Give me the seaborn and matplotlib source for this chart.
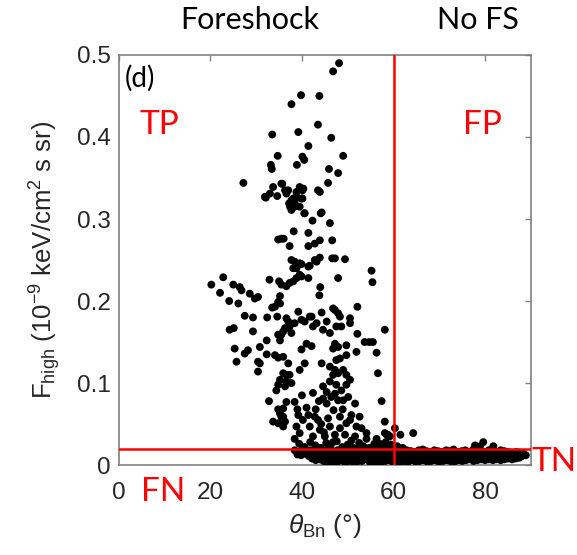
import matplotlib
matplotlib.use("Agg")
import matplotlib.pyplot as plt
import seaborn as sns
import pandas as pd

# ---- data: scattered events (theta_Bn [deg], F_high) ----
upper_x = [48.1,46.8,39.8,43.8,37.7,43.5,39.2,33.5,46.4,41.4,34.7,40.1,40.5,49.0,38.9,33.2,33.4,45.9,47.9,27.2,45.7,43.9,44.1,40.5,
           31.9,33.0,33.7,35.7,36.6,37.7,37.4,39.5,40.1,38.8,38.4,39.5,32.1,34.6,37.0,37.2,37.7,38.4,38.8,40.3,39.9,40.6,38.1,35.5,36.3,37.3,38.1,40.1,
           42.3,43.5,44.3,46.1,38.2,41.4,35.5,34.8,36.0,37.3,41.4,42.8,43.9,46.6,
           37.7,38.4,39.5,38.8,41.4,42.8,39.9,41.7,43.2,43.9,46.6,47.2,49.4,38.1,
           55.2,55.4,47.9,32.9,35.0,35.5,36.6,38.1,38.8,39.9,41.4,39.5,37.3,44.0,43.8,
           20.2,22.8,25.0,26.4,26.8,22.1,28.6,30.4,29.7,24.1,26.1,35.2,34.8,34.1,33.5,35.2,
           27.5,29.3,32.4,34.6,39.2,39.9,41.7,43.2,25.1,37.0,52.1,47.2,47.9,48.3,50.5,44.3,42.1,36.6,46.8,37.3,42.4,47.5,
           24.2,29.3,32.3,34.8,35.9,37.0,25.3,27.5,28.2,25.7,30.8,32.3,34.1,34.8,30.4,30.8,30.4,37.0,36.6,35.2,34.8,34.4,36.6,35.9,
           32.8,34.8,35.2,35.9,36.3,33.7,34.8,35.9,
           58.1,52.1,53.7,54.7,55.5,56.3,56.6,57.4,58.1,60.3,
           47.2,46.8,47.9,49.7,51.9,49.7,48.6,50.5,44.6,46.1,45.4,41.0,42.1,39.9,40.6,37.7,36.3,35.5,38.4,
           48.3,47.5,44.3,40.6,39.5,37.7,36.3,
           46.1,47.2,46.8,47.9,49.0,49.7,50.5,46.1,47.5,48.6,49.7,44.6,45.4,46.4,47.9,49.0,47.2,50.1,51.6,44.6,45.4,
           42.4,38.4,39.2,41.4,42.8,43.5,45.7,48.3,50.8,52.6,41.7,43.9,46.1,48.3,49.7,51.9,54.1,38.8,39.5,38.4,42.4,45.0,47.2,49.4,51.6,54.1,56.3,58.5,
           35.2,35.9,37.3,36.6,35.5,35.9,
           58.1,58.8,59.2,61.5,64.3,79.6,77.8,78.9,81.8,57.0,57.7,59.2,
           40.2,41.0,43.0,44.2,40.0,39.0,43.7,46.9,48.9,50.5,53.0,44.8,46.8,50.8]
upper_y = [0.490,0.480,0.451,0.450,0.440,0.415,0.406,0.403,0.399,0.389,0.377,0.376,0.372,0.377,0.366,0.366,0.361,0.361,0.356,0.344,0.344,0.333,0.307,0.307,
           0.327,0.331,0.339,0.343,0.331,0.323,0.315,0.339,0.335,0.327,0.315,0.315,0.326,0.328,0.335,0.319,0.311,0.321,0.333,0.337,0.325,0.307,0.315,0.343,0.335,0.319,0.325,0.325,
           0.298,0.335,0.308,0.295,0.285,0.283,0.276,0.275,0.276,0.267,0.267,0.270,0.274,0.274,
           0.250,0.248,0.246,0.240,0.242,0.250,0.245,0.243,0.248,0.253,0.252,0.252,0.251,0.240,
           0.237,0.223,0.228,0.226,0.224,0.220,0.218,0.224,0.228,0.230,0.228,0.232,0.222,0.217,0.207,
           0.220,0.229,0.220,0.217,0.213,0.210,0.209,0.205,0.203,0.200,0.197,0.206,0.199,0.193,0.192,0.197,
           0.182,0.180,0.180,0.181,0.187,0.177,0.181,0.173,0.167,0.175,0.193,0.189,0.185,0.181,0.179,0.186,0.181,0.179,0.191,0.169,0.169,0.169,
           0.165,0.163,0.152,0.159,0.163,0.167,0.142,0.136,0.140,0.126,0.144,0.135,0.134,0.131,0.126,0.124,0.114,0.124,0.110,0.104,0.098,0.091,0.102,0.112,
           0.078,0.068,0.063,0.059,0.053,0.053,0.051,0.069,
           0.165,0.160,0.150,0.150,0.150,0.137,0.112,0.078,0.053,0.045,
           0.148,0.142,0.144,0.146,0.138,0.134,0.169,0.173,0.165,0.161,0.175,0.148,0.145,0.141,0.175,0.161,0.167,0.159,0.173,
           0.130,0.128,0.124,0.124,0.116,0.100,0.096,
           0.120,0.116,0.110,0.112,0.116,0.110,0.104,0.102,0.098,0.091,0.098,0.096,0.089,0.083,0.079,0.079,0.087,0.083,0.075,0.081,0.075,
           0.088,0.077,0.061,0.061,0.059,0.055,0.057,0.059,0.061,0.059,0.047,0.043,0.047,0.045,0.051,0.047,0.039,0.047,0.039,0.032,0.035,0.035,0.037,0.037,0.035,0.032,0.032,0.037,
           0.152,0.132,0.110,0.077,0.059,0.047,
           0.039,0.037,0.035,0.037,0.039,0.028,0.024,0.023,0.023,0.026,0.022,0.022,
           0.055,0.070,0.068,0.050,0.085,0.068,0.078,0.067,0.068,0.055,0.045,0.040,0.028,0.030]

# points just above the threshold line
near_x = [39.4,40.6,41.8,42.9,44.1,45.3,46.2,47.6,48.8,50.0,51.2,52.5,53.4,54.7,55.8,56.9,58.3,59.4,60.8,62.0]
near_y = [0.026,0.022,0.028,0.024,0.021,0.027,0.023,0.029,0.022,0.025,0.021,0.027,0.023,0.021,0.026,0.022,0.028,0.025,0.023,0.021]

# dense band below the threshold
bandA_x = [38.4,39.3,40.1,41.0,41.8,42.7,43.4,44.3,45.2,46.0,
           46.8,47.7,48.5,49.4,50.3,51.0,51.9,52.7,53.6,54.4,
           55.3,56.1,57.0,57.9,58.7,59.5,60.4,61.3,62.1,62.9,
           63.8,64.6,65.5,66.4,67.2,68.0,68.9,69.7,70.6,71.5,
           72.3,73.1,74.0,74.9,75.7,76.5,77.4,78.2,79.1,80.0,
           80.8,81.6,82.5,83.4,84.2,85.0,85.9,86.8,87.6,88.4]
bandA_y = [0.018,0.016,0.019,0.017,0.018,0.016,0.019,0.017,0.018,0.019,
           0.016,0.018,0.017,0.019,0.016,0.018,0.019,0.017,0.016,0.018,
           0.019,0.017,0.018,0.016,0.019,0.018,0.017,0.019,0.016,0.018,
           0.017,0.016,0.018,0.019,0.017,0.016,0.018,0.017,0.016,0.018,
           0.017,0.019,0.016,0.017,0.018,0.016,0.019,0.018,0.017,0.016,
           0.018,0.017,0.016,0.018,0.017,0.016,0.015,0.016,0.015,0.014]
bandB_x = [39.0,39.8,40.7,41.5,42.4,43.1,44.0,44.8,45.7,46.5,
           47.3,48.2,49.0,49.9,50.7,51.5,52.4,53.2,54.1,54.9,
           55.8,56.6,57.5,58.3,59.2,60.0,60.9,61.7,62.6,63.4,
           64.3,65.1,66.0,66.8,67.7,68.5,69.4,70.2,71.1,71.9,
           72.8,73.6,74.5,75.3,76.2,77.0,77.9,78.7,79.6,80.4,
           81.3,82.1,83.0,83.8,84.7,85.5,86.4,87.2,88.1,88.9]
bandB_y = [0.013,0.012,0.014,0.011,0.013,0.012,0.010,0.013,0.011,0.012,
           0.010,0.013,0.011,0.012,0.010,0.013,0.011,0.012,0.010,0.011,
           0.013,0.010,0.012,0.011,0.013,0.012,0.010,0.011,0.012,0.010,
           0.011,0.012,0.010,0.011,0.013,0.012,0.010,0.011,0.012,0.010,
           0.012,0.011,0.010,0.012,0.011,0.013,0.010,0.012,0.011,0.012,
           0.010,0.011,0.012,0.010,0.011,0.012,0.011,0.010,0.011,0.012]
bandC_x = [42.2,43.0,43.9,44.7,45.6,46.4,47.2,48.1,48.9,49.8,
           50.6,51.4,52.3,53.1,54.0,54.8,55.6,56.5,57.3,58.2,
           59.0,59.8,60.7,61.5,62.4,63.2,64.0,64.9,65.7,66.6,
           67.4,68.2,69.1,69.9,70.8,71.6,72.4,73.3,74.1,75.0,
           75.8,76.6,77.5,78.3,79.2,80.0,80.8,81.7,82.5,83.4,
           84.2,85.0,85.9,86.7,87.5,
           46.6,47.3,45.5,51.8,56.0,49.5]
bandC_y = [0.008,0.006,0.007,0.005,0.006,0.004,0.003,0.005,0.007,0.006,
           0.005,0.004,0.006,0.005,0.007,0.004,0.005,0.006,0.004,0.005,
           0.006,0.004,0.005,0.003,0.005,0.004,0.006,0.004,0.005,0.006,
           0.004,0.005,0.006,0.004,0.005,0.006,0.005,0.004,0.006,0.005,
           0.006,0.007,0.005,0.006,0.007,0.006,0.007,0.006,0.007,0.006,
           0.007,0.008,0.007,0.008,0.009,
           0.001,0.0005,0.002,0.002,0.002,0.002]

x_ticks = [0, 20, 40, 60, 80]
y_ticks = [0, 0.1, 0.2, 0.3, 0.4, 0.5]
y_ticklabels = ["0", "0.1", "0.2", "0.3", "0.4", "0.5"]
theta_thresh = 60
f_thresh = 0.02

all_x = upper_x + near_x + bandA_x + bandB_x + bandC_x
all_y = upper_y + near_y + bandA_y + bandB_y + bandC_y
df = pd.DataFrame({"theta": all_x, "F": all_y})

sns.set_style("white")
plt.rcParams["font.family"] = ["Liberation Sans", "DejaVu Sans"]
plt.rcParams["mathtext.fontset"] = "custom"
plt.rcParams["mathtext.rm"] = "Liberation Sans"
plt.rcParams["mathtext.it"] = "Liberation Sans:italic"

fig = plt.figure(figsize=(5.77, 5.55), dpi=100)
ax = fig.add_axes([0.206, 0.162, 0.714, 0.739])

sns.scatterplot(data=df, x="theta", y="F", ax=ax, color="black", s=32,
                linewidth=0, edgecolor="none", zorder=3)

ax.axvline(theta_thresh, color="#ff0000", lw=1.8, zorder=4)
ax.axhline(f_thresh, color="#ff0000", lw=1.8, zorder=4)

ax.set_xlim(0, 90)
ax.set_ylim(0, 0.5)
ax.set_xticks(x_ticks)
ax.set_yticks(y_ticks)
ax.set_yticklabels(y_ticklabels)
ax.tick_params(direction="in", length=4, width=1, colors="#808080",
               labelcolor="#262626", labelsize=17.5, top=True, right=True)
ax.tick_params(axis="x", pad=12)
ax.tick_params(axis="y", pad=6)
for sp in ax.spines.values():
    sp.set_color("#808080")
    sp.set_linewidth(1.2)

ax.set_xlabel(r"$\theta_{\mathrm{Bn}}$ (°)", fontsize=19, color="#262626", labelpad=6)
ax.set_ylabel(r"F$_{\mathrm{high}}$ (10$^{-9}$ keV/cm$^2$ s sr)", fontsize=18.5,
              color="#262626", labelpad=10)

lab_font = ["Lato", "DejaVu Sans"]
ax.text(1.2, 0.488, "(d)", fontsize=20, family=lab_font, color="black", va="top", ha="left")
ax.text(8.9, 0.415, "TP", fontsize=24, family=lab_font, color="#ff0000", ha="center", va="center")
ax.text(79.5, 0.415, "FP", fontsize=24, family=lab_font, color="#ff0000", ha="center", va="center")
ax.text(9.6, -0.033, "FN", fontsize=24, family=lab_font, color="#ff0000", ha="center", va="center", clip_on=False)
ax.text(95.0, 0.004, "TN", fontsize=24, family=lab_font, color="#ff0000", ha="center", va="center", clip_on=False)
ax.text(28.6, 0.543, "Foreshock", fontsize=22, family=lab_font, color="black", ha="center", va="center", clip_on=False)
ax.text(78.4, 0.543, "No FS", fontsize=22, family=lab_font, color="black", ha="center", va="center", clip_on=False)

fig.savefig("out.png", dpi=100)
